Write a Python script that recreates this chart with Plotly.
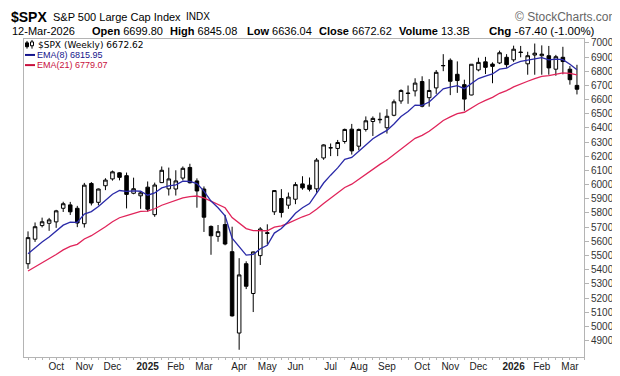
import plotly.graph_objects as go
import pandas as pd

# ---------------- data (weekly $SPX candles) ----------------
week_start = "2024-09-09"
n_weeks = 79
dates = pd.date_range(week_start, periods=n_weeks, freq="W-MON")

opens = [5442, 5615, 5711, 5727, 5737, 5833, 5857, 5833, 5724, 6008,
         5875, 5992, 6040, 6083, 6063, 5939, 5921, 5982, 5788, 6014,
         5970, 5969, 6046, 6121, 6026, 5969, 5705, 5635, 5718, 5527,
         4953, 5442, 5232, 5499, 5655, 5808, 5902, 5855, 5897, 6005,
         5996, 5970, 6188, 6259, 6255, 6304, 6391, 6271, 6389, 6445,
         6457, 6401, 6489, 6590, 6646, 6661, 6727, 6613, 6682, 6838,
         6877, 6778, 6705, 6632, 6809, 6866, 6850, 6858, 6898, 6880,
         6935, 6852, 6914, 6909, 6909, 6814, 6898, 6814, 6699.80]
highs = [5670, 5733, 5767, 5765, 5822, 5879, 5878, 5850, 6012, 6018,
         5972, 6045, 6099, 6087, 6085, 6049, 5949, 6022, 6014, 6128,
         6120, 6101, 6128, 6147, 6044, 5987, 5712, 5715, 5787, 5703,
         5481, 5459, 5528, 5700, 5720, 5959, 5968, 5944, 6017, 6059,
         6050, 6187, 6284, 6290, 6315, 6395, 6428, 6395, 6481, 6481,
         6508, 6532, 6600, 6672, 6699, 6750, 6764, 6744, 6808, 6920,
         6890, 6869, 6740, 6850, 6895, 6901, 6862, 6945, 6920, 6980,
         6978, 6937, 6995, 6982, 6978, 6915, 6972, 6836, 6845.08]
lows = [5406, 5596, 5698, 5674, 5695, 5807, 5786, 5700, 5697, 5853,
        5854, 5961, 6028, 6030, 5832, 5932, 5829, 5809, 5773, 6011,
        5923, 5923, 6030, 6008, 5837, 5666, 5505, 5597, 5572, 5069,
        4835, 5263, 5101, 5433, 5578, 5786, 5768, 5829, 5862, 5964,
        5952, 5943, 6175, 6201, 6201, 6289, 6212, 6242, 6374, 6343,
        6432, 6360, 6482, 6570, 6570, 6622, 6545, 6550, 6640, 6800,
        6631, 6647, 6521, 6630, 6799, 6780, 6715, 6850, 6824, 6866,
        6898, 6775, 6775, 6775, 6775, 6768, 6778, 6705, 6636.04]
closes = [5626, 5703, 5738, 5751, 5815, 5865, 5808, 5729, 5996, 5870,
          5969, 6032, 6090, 6051, 5931, 5971, 5942, 5827, 5997, 6101,
          6040, 6026, 6115, 6013, 5955, 5770, 5639, 5668, 5581, 5074,
          5363, 5283, 5525, 5687, 5660, 5958, 5803, 5912, 6000, 5977,
          5967, 6173, 6280, 6260, 6297, 6389, 6238, 6389, 6450, 6467,
          6460, 6482, 6584, 6664, 6643, 6716, 6553, 6664, 6792, 6840,
          6729, 6734, 6603, 6849, 6862, 6827, 6834, 6930, 6846, 6955,
          6932, 6909, 6927, 6920, 6823, 6902, 6868, 6740, 6672.62]

# EMA values at the first visible week
ema8_first = 5512
ema21_first = 5391

month_ticks = ["2024-10-07", "2024-11-04", "2024-12-02", "2025-01-06", "2025-02-03",
               "2025-03-03", "2025-04-07", "2025-05-05", "2025-06-02", "2025-07-07",
               "2025-08-04", "2025-09-01", "2025-10-06", "2025-11-03", "2025-12-01",
               "2026-01-05", "2026-02-02", "2026-03-02"]
month_labels = ["Oct", "Nov", "Dec", "<b>2025</b>", "Feb", "Mar", "Apr", "May", "Jun",
                "Jul", "Aug", "Sep", "Oct", "Nov", "Dec", "<b>2026</b>", "Feb", "Mar"]
price_ticks = list(range(4900, 7001, 100))


def ema(values, n, first):
    k = 2.0 / (n + 1)
    out = [first]
    for v in values[1:]:
        out.append(out[-1] + k * (v - out[-1]))
    return out


ema8 = ema(closes, 8, ema8_first)
ema21 = ema(closes, 21, ema21_first)

# ---------------- figure ----------------
W, H = 620, 376
L, R, T, B = 16, 576, 31, 360

fig = go.Figure()
fig.add_trace(go.Candlestick(
    x=dates, open=opens, high=highs, low=lows, close=closes,
    increasing=dict(line=dict(color="#000000", width=1), fillcolor="#ffffff"),
    decreasing=dict(line=dict(color="#000000", width=1), fillcolor="#000000"),
    whiskerwidth=0, showlegend=False, hoverinfo="skip"))
fig.add_trace(go.Scatter(x=dates, y=ema21, mode="lines",
                         line=dict(color="#e0245a", width=1.3), showlegend=False, hoverinfo="skip"))
fig.add_trace(go.Scatter(x=dates, y=ema8, mode="lines",
                         line=dict(color="#2a2aa8", width=1.3), showlegend=False, hoverinfo="skip"))


def P(xp, yp):
    return (xp - L) / (R - L), (B - yp) / (B - T)


ann = []


def text(xp, yp, s, size=11, color="#000", family="Liberation Sans", anchor="left"):
    x, y = P(xp, yp)
    ann.append(dict(x=x, y=y, xref="paper", yref="paper", text=s, showarrow=False,
                    xanchor=anchor, yanchor="middle", borderpad=0,
                    font=dict(size=size, color=color, family=family)))


# header line 1
text(2, 8, "<b>$SPX</b>", size=14)
text(44, 8, "S&P 500 Large Cap Index", size=11)
text(177, 8, "INDX", size=10)
text(612, 8, "\u00a9 StockCharts.com", size=12, color="#666666", anchor="right")
# header line 2
text(3, 23, "12-Mar-2026", size=11)
text(83, 23, "<b>Open</b> 6699.80", size=11)
text(161, 23, "<b>High</b> 6845.08", size=11)
text(238, 23, "<b>Low</b> 6636.04", size=11)
text(310, 23, "<b>Close</b> 6672.62", size=11)
text(390, 23, "<b>Volume</b> 13.3B", size=11)
text(480, 23, "<b>Chg</b> -67.40 (-1.00%)", size=11.5)
text(602, 23, "\u25bc", size=8, color="#8b0a2a")
# in-plot legend
text(29, 37.5, "$SPX (Weekly) 6672.62", size=9, family="DejaVu Sans")
text(28, 47.5, "EMA(8) 6815.95", size=9, color="#14148c")
text(28, 58, "EMA(21) 6779.07", size=9, color="#c8103c")


def seg(x0, y0, x1, y1, color, width=1):
    a, b = P(x0, y0)
    c, d = P(x1, y1)
    return dict(type="line", xref="paper", yref="paper", x0=a, y0=b, x1=c, y1=d,
                line=dict(color=color, width=width))


def box(x0, y0, x1, y1, fill):
    a, b = P(x0, y0)
    c, d = P(x1, y1)
    return dict(type="rect", xref="paper", yref="paper", x0=a, y0=b, x1=c, y1=d,
                fillcolor=fill, line=dict(color="#000", width=1))


shapes = [
    seg(17, 47.5, 27, 47.5, "#14148c", 2),
    seg(17, 58, 27, 58, "#c8103c", 2),
    # little candlestick icon
    seg(19, 33, 19, 41, "#000"), box(17.5, 35, 20.5, 39, "#000"),
    seg(24, 32, 24, 41, "#000"), box(22.5, 34, 25.5, 38, "#fff"),
]

fig.update_layout(
    width=W, height=H,
    margin=dict(l=L, r=W - R, t=T, b=H - B),
    paper_bgcolor="white", plot_bgcolor="white",
    annotations=ann, shapes=shapes,
    boxgap=0.28,
    xaxis=dict(
        type="date", range=["2024-09-05", "2026-03-16"],
        rangeslider=dict(visible=False),
        tickvals=month_ticks, ticktext=month_labels,
        ticks="", showgrid=False, zeroline=False,
        showline=True, mirror=True, linecolor="#b4b4b4", linewidth=1,
        tickfont=dict(size=10, color="#222", family="Liberation Sans"),
        minor=dict(ticks="outside", ticklen=2, tickcolor="#b4b4b4",
                   dtick=7 * 86400000, tick0="2024-09-09", showgrid=False),
    ),
    yaxis=dict(
        side="right", range=[4784, 7027],
        tickvals=price_ticks, ticktext=[str(v) for v in price_ticks],
        ticks="outside", ticklen=4, tickcolor="#b4b4b4",
        showgrid=False, zeroline=False,
        showline=True, mirror=True, linecolor="#b4b4b4", linewidth=1,
        tickfont=dict(size=10, color="#333", family="Liberation Sans"),
    ),
    font=dict(family="Liberation Sans"),
)

fig.write_html("out.html")
